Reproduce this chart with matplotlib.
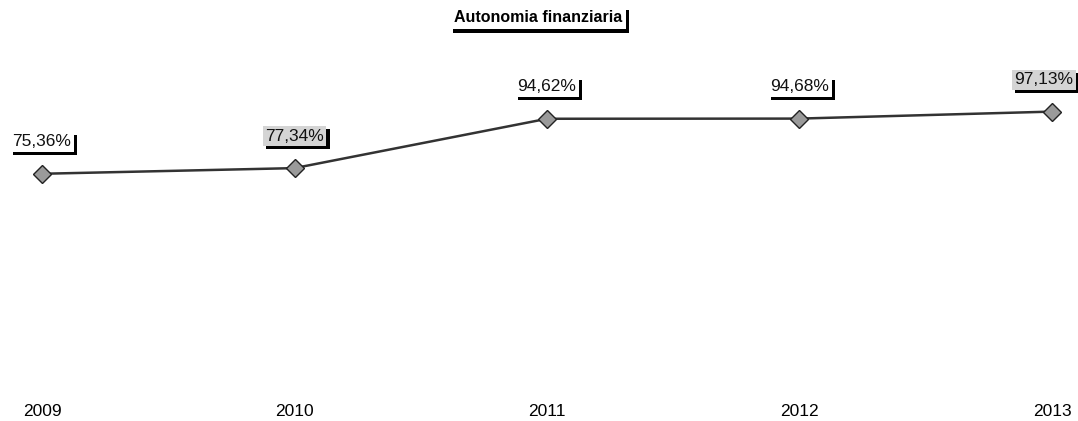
import matplotlib
matplotlib.use("Agg")
import matplotlib.pyplot as plt
import matplotlib.patheffects as pe

years = ["2009", "2010", "2011", "2012", "2013"]
values = [75.36, 77.34, 94.62, 94.68, 97.13]
labels = ["75,36%", "77,34%", "94,62%", "94,68%", "97,13%"]
shaded = [False, True, False, False, True]

plt.rcParams["font.family"] = ["Liberation Sans", "DejaVu Sans"]

fig = plt.figure(figsize=(10.78, 4.21), dpi=100)
ax = fig.add_axes([0, 32 / 421, 1, 389 / 421])

x = list(range(len(years)))
ax.plot(x, values, color="#333333", linewidth=1.8, marker="D", markersize=9,
        markerfacecolor="#9a9a9a", markeredgecolor="#222222", markeredgewidth=1, zorder=3)

shadow = [pe.SimplePatchShadow(offset=(2.2, -2.2), shadow_rgbFace="black", alpha=1), pe.Normal()]

for xi, v, lab, sh in zip(x, values, labels, shaded):
    dx = -6 if xi == len(years) - 1 else 0
    t = ax.annotate(lab, (xi, v), xytext=(dx, 23), textcoords="offset points",
                    ha="center", va="center", fontsize=12.5, color="#111111",
                    bbox=dict(boxstyle="square,pad=0.15",
                              facecolor="#d4d4d4" if sh else "white",
                              edgecolor="none"),
                    zorder=4, annotation_clip=False)
    t.get_bbox_patch().set_path_effects(shadow)

ax.set_xlim(-42 / 252.5, 4 + 26 / 252.5)
ax.set_ylim(0, 389 / 2.856)
ax.set_xticks(x)
ax.set_xticklabels(years, fontsize=12.5)
ax.tick_params(axis="x", length=0, pad=11)
ax.set_yticks([])
for s in ax.spines.values():
    s.set_visible(False)

title = fig.text(538 / 1078, 1 - 18 / 421, "Autonomia finanziaria", ha="center", va="center",
                 fontsize=11.5, fontweight="bold",
                 bbox=dict(boxstyle="square,pad=0.25", facecolor="white", edgecolor="none"))
title.get_bbox_patch().set_path_effects(shadow)

fig.savefig("out.png", dpi=100)
